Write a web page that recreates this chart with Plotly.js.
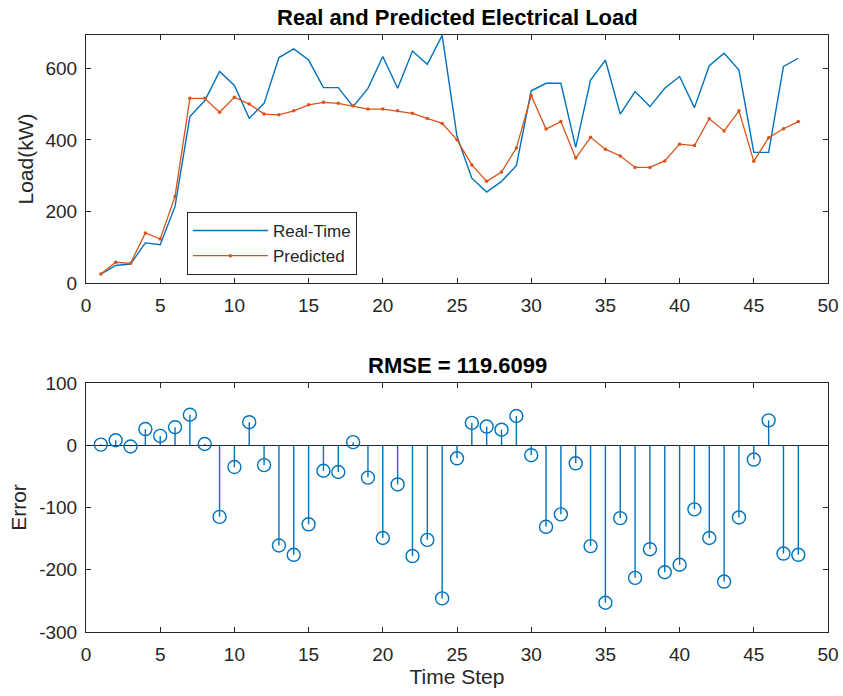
<!DOCTYPE html>
<html>
<head>
<meta charset="utf-8">
<script src="https://cdn.plot.ly/plotly-3.0.1.min.js"></script>
<style>html,body{margin:0;padding:0;background:#fff;}#chart{width:843px;height:696px;}</style>
</head>
<body>
<div id="chart"></div>
<script>
const timeSteps = [1,2,3,4,5,6,7,8,9,10,11,12,13,14,15,16,17,18,19,20,21,22,23,24,25,26,27,28,29,30,31,32,33,34,35,36,37,38,39,40,41,42,43,44,45,46,47,48];
const realTime = [25,49,53,112,107,214,465,509,591,552,460,502,630,654,623,546,546,493,544,633,544,648,611,692,410,293,254,284,328,537,558,558,379,567,623,472,535,493,544,577,490,607,642,595,365,365,605,628];
const predicted = [25,58,55,140,123,242,516,516,477,519,500,472,470,481,498,505,502,495,486,486,481,474,460,446,400,330,284,310,377,524,430,451,349,407,374,355,323,323,341,388,384,459,425,481,340,406,431,451];
const errors = [1,8,-2,26,15,29,49,2,-115,-35,37,-32,-161,-176,-127,-41,-43,5,-52,-149,-63,-178,-152,-246,-21,36,30,25,47,-16,-131,-111,-29,-162,-253,-117,-213,-167,-204,-192,-103,-149,-219,-116,-23,40,-174,-176];
const xTicks = [0,5,10,15,20,25,30,35,40,45,50];
const loadTicks = [0,200,400,600];
const errTicks = [100,0,-100,-200,-300];
const errTickText = ["100","0","-100","-200","-300"];

const blue = '#0072BD', red = '#D95319', ink = '#262626';
const FONT = 'Liberation Sans, Arial, sans-serif';

const stemX = [], stemY = [];
timeSteps.forEach((t, i) => { stemX.push(t, t, null); stemY.push(0, errors[i], null); });

const traces = [
  {x: timeSteps, y: realTime, type: 'scatter', mode: 'lines', name: 'Real-Time',
   line: {color: blue, width: 1.4}, xaxis: 'x', yaxis: 'y'},
  {x: timeSteps, y: predicted, type: 'scatter', mode: 'lines+markers', name: 'Predicted',
   line: {color: red, width: 1.3}, marker: {color: red, size: 3.5, symbol: 'circle'}, xaxis: 'x', yaxis: 'y'},
  {x: stemX, y: stemY, type: 'scatter', mode: 'lines', showlegend: false,
   line: {color: blue, width: 1.4}, xaxis: 'x2', yaxis: 'y2', hoverinfo: 'skip'},
  {x: timeSteps, y: errors, type: 'scatter', mode: 'markers', showlegend: false,
   marker: {symbol: 'circle-open', size: 13, color: blue, line: {width: 1.4, color: blue}}, xaxis: 'x2', yaxis: 'y2'}
];

const axBase = {
  showline: true, linecolor: ink, linewidth: 1, mirror: 'ticks', ticks: 'inside', ticklen: 5,
  tickcolor: ink, showgrid: false, zeroline: false, tickfont: {family: FONT, size: 19, color: ink}
};
const xBase = Object.assign({}, axBase, {ticklabelstandoff: 5});
const yBase = Object.assign({}, axBase, {ticklabelstandoff: 4});

const layout = {
  width: 843, height: 696,
  paper_bgcolor: '#fff', plot_bgcolor: '#fff',
  margin: {l: 86, r: 15, t: 35, b: 64},
  font: {family: FONT, color: ink},
  showlegend: true,
  legend: {x: 0.136, y: 0.7035, xanchor: 'left', yanchor: 'top', bgcolor: '#fff',
           bordercolor: ink, borderwidth: 1, font: {family: FONT, size: 17, color: ink},
           tracegroupgap: 0, itemwidth: 75},
  xaxis: Object.assign({}, xBase, {domain: [0, 1], range: [0, 50], tickvals: xTicks, anchor: 'y'}),
  yaxis: Object.assign({}, yBase, {domain: [0.5846, 1], range: [0, 693], tickvals: loadTicks, anchor: 'x',
          title: {text: 'Load(kW)', font: {family: FONT, size: 21, color: ink}, standoff: 6}}),
  xaxis2: Object.assign({}, xBase, {domain: [0, 1], range: [0, 50], tickvals: xTicks, anchor: 'y2',
          title: {text: 'Time Step', font: {family: FONT, size: 21, color: ink}, standoff: 5}}),
  yaxis2: Object.assign({}, yBase, {domain: [0, 0.4171], range: [-300, 100], tickvals: errTicks, ticktext: errTickText,
          anchor: 'x2', zeroline: true, zerolinecolor: ink, zerolinewidth: 1,
          title: {text: 'Error', font: {family: FONT, size: 21, color: ink}, standoff: 6}}),
  annotations: [
    {text: '<b>Real and Predicted Electrical Load</b>', xref: 'paper', yref: 'paper', x: 0.5, y: 1, yshift: 3,
     xanchor: 'center', yanchor: 'bottom', showarrow: false, font: {family: FONT, size: 22, color: '#000'}},
    {text: '<b>RMSE = 119.6099</b>', xref: 'paper', yref: 'paper', x: 0.5, y: 0.4171, yshift: 3,
     xanchor: 'center', yanchor: 'bottom', showarrow: false, font: {family: FONT, size: 22, color: '#000'}}
  ]
};

Plotly.newPlot('chart', traces, layout, {staticPlot: true, displayModeBar: false});
</script>
</body>
</html>
